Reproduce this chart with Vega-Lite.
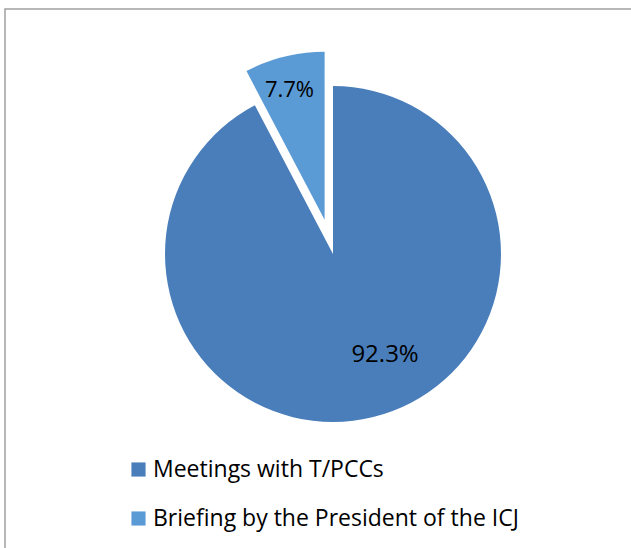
{
  "$schema": "https://vega.github.io/schema/vega-lite/v6.json",
  "autosize": {"type": "none"},
  "padding": {"left": 5, "top": 9, "right": 0, "bottom": 0},
  "width": 640,
  "height": 560,
  "background": "white",
  "view": {"stroke": "#a0a0a0", "strokeWidth": 1.5},
  "config": {
    "font": "Open Sans"
  },
  "data": {
    "values": [
      {"category": "Meetings with T/PCCs", "value": 92.3, "label": "92.3%", "idx": 1},
      {"category": "Briefing by the President of the ICJ", "value": 7.7, "label": "7.7%", "idx": 2}
    ]
  },
  "encoding": {
    "theta": {"field": "value", "type": "quantitative", "stack": true},
    "order": {"field": "idx", "type": "quantitative"}
  },
  "layer": [
    {
      "mark": {"type": "arc", "outerRadius": 168, "x": 328, "y": 245},
      "encoding": {
        "color": {
          "field": "category", "type": "nominal",
          "scale": {"domain": ["Meetings with T/PCCs", "Briefing by the President of the ICJ"], "range": ["#4a7ebb", "#5b9bd5"]},
          "legend": {
            "title": null, "orient": "none", "legendX": 122, "legendY": 449,
            "symbolType": "square", "symbolSize": 200, "symbolStrokeWidth": 0,
            "labelFont": "Open Sans", "labelFontSize": 23, "labelColor": "#000000",
            "labelLimit": 600, "labelOffset": 3, "rowPadding": 25, "direction": "vertical"
          }
        },
        "fillOpacity": {"condition": {"test": "datum.idx == 1", "value": 1}, "value": 0}
      }
    },
    {
      "mark": {"type": "arc", "outerRadius": 168, "x": 328, "y": 245, "xOffset": -8.4, "yOffset": -34.2},
      "encoding": {
        "color": {"field": "category", "type": "nominal"},
        "fillOpacity": {"condition": {"test": "datum.idx == 2", "value": 1}, "value": 0}
      }
    },
    {
      "mark": {"type": "text", "radius": 104.5, "x": 328, "y": 245, "dx": 27, "fontSize": 24, "font": "Open Sans", "color": "#000000"},
      "encoding": {
        "detail": {"field": "category"},
        "text": {"condition": {"test": "datum.idx == 1", "field": "label"}, "value": ""}
      }
    },
    {
      "mark": {"type": "text", "radius": 133.2, "x": 328, "y": 245, "xOffset": -8.4, "yOffset": -34.2, "dx": -3.2, "fontSize": 22, "font": "Open Sans", "color": "#000000"},
      "encoding": {
        "detail": {"field": "category"},
        "text": {"condition": {"test": "datum.idx == 2", "field": "label"}, "value": ""}
      }
    }
  ]
}
